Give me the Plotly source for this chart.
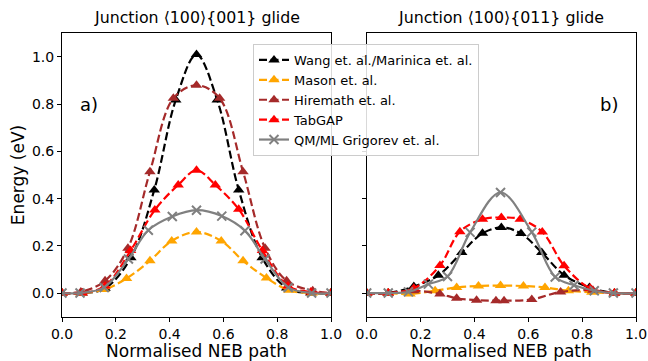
import plotly.graph_objects as go
from plotly.subplots import make_subplots

# ---------------- data: panel a) Junction <100>{001} glide ----------------
a_wang_x = [0, 0.075, 0.16, 0.256, 0.343, 0.423, 0.5, 0.577, 0.657, 0.744, 0.835, 0.925, 1.0]
a_wang_y = [0, 0.0, 0.02, 0.15, 0.437, 0.818, 1.01, 0.818, 0.437, 0.15, 0.022, 0.0, 0]
a_mason_x = [0, 0.07, 0.157, 0.24, 0.327, 0.408, 0.5, 0.592, 0.673, 0.76, 0.843, 0.93, 1.0]
a_mason_y = [0, 0, 0.015, 0.062, 0.137, 0.221, 0.259, 0.221, 0.137, 0.064, 0.012, 0, 0]
a_hire_x = [0, 0.07, 0.16, 0.245, 0.327, 0.414, 0.5, 0.586, 0.673, 0.755, 0.835, 0.932, 1.0]
a_hire_y = [0, 0.005, 0.052, 0.19, 0.514, 0.825, 0.88, 0.825, 0.514, 0.19, 0.052, 0.01, 0]
a_tab_x = [0, 0.075, 0.16, 0.255, 0.345, 0.432, 0.5, 0.57, 0.657, 0.745, 0.84, 0.925, 1.0]
a_tab_y = [0, 0.0, 0.03, 0.18, 0.352, 0.458, 0.52, 0.458, 0.355, 0.18, 0.03, 0.005, 0]
a_qm_x = [0, 0.067, 0.157, 0.247, 0.321, 0.41, 0.5, 0.594, 0.68, 0.755, 0.841, 0.928, 1.0]
a_qm_y = [0, 0, 0.024, 0.144, 0.266, 0.324, 0.351, 0.326, 0.264, 0.144, 0.024, 0, 0]

# ---------------- data: panel b) Junction <100>{011} glide ----------------
b_wang_x = [0, 0.08, 0.175, 0.266, 0.353, 0.43, 0.5, 0.573, 0.65, 0.733, 0.827, 0.92, 1.0]
b_wang_y = [0, 0, 0.028, 0.075, 0.172, 0.253, 0.278, 0.252, 0.172, 0.076, 0.024, 0, 0]
b_mason_x = [0, 0.08, 0.161, 0.254, 0.334, 0.415, 0.497, 0.582, 0.662, 0.749, 0.836, 0.92, 1.0]
b_mason_y = [0, 0, -0.004, 0.01, 0.024, 0.03, 0.032, 0.03, 0.024, 0.01, 0.003, 0, 0]
b_hire_x = [0, 0.08, 0.175, 0.272, 0.334, 0.408, 0.48, 0.51, 0.613, 0.72, 0.84, 0.92, 1.0]
b_hire_y = [0, 0, 0.01, -0.004, -0.022, -0.03, -0.032, -0.032, -0.027, 0.005, 0.012, 0, 0]
b_tab_x = [0, 0.08, 0.175, 0.272, 0.346, 0.43, 0.5, 0.57, 0.652, 0.733, 0.83, 0.92, 1.0]
b_tab_y = [0, 0, 0.02, 0.117, 0.26, 0.313, 0.32, 0.313, 0.259, 0.116, 0.02, 0, 0]
b_qm_x = [0, 0.08, 0.155, 0.229, 0.3, 0.384, 0.497, 0.613, 0.7, 0.77, 0.845, 0.916, 1.0]
b_qm_y = [0, 0, 0.005, 0.038, 0.07, 0.257, 0.426, 0.258, 0.068, 0.033, 0.01, 0, 0]

labels = ["Wang et. al./Marinica et. al.", "Mason et. al.", "Hiremath et. al.",
          "TabGAP", "QM/ML Grigorev et. al."]
colors = ["black", "orange", "brown", "red", "grey"]
titles = ["Junction \u27e8100\u27e9{001} glide", "Junction \u27e8100\u27e9{011} glide"]
panel_tags = ["a)", "b)"]
x_ticks = [0, 0.2, 0.4, 0.6, 0.8, 1.0]
y_ticks = [0, 0.2, 0.4, 0.6, 0.8, 1.0]

panels = [
    [(a_wang_x, a_wang_y), (a_mason_x, a_mason_y), (a_hire_x, a_hire_y), (a_tab_x, a_tab_y), (a_qm_x, a_qm_y)],
    [(b_wang_x, b_wang_y), (b_mason_x, b_mason_y), (b_hire_x, b_hire_y), (b_tab_x, b_tab_y), (b_qm_x, b_qm_y)],
]

FONT = "DejaVu Sans"
fig = make_subplots(rows=1, cols=2, shared_yaxes=True)

for p, series in enumerate(panels):
    for i, (xs, ys) in enumerate(series):
        is_qm = i == 4
        marker = dict(symbol="x-thin", size=9, line=dict(width=2, color=colors[i]), color=colors[i]) if is_qm \
            else dict(symbol="triangle-up", size=10, color=colors[i], line=dict(width=0))
        fig.add_trace(go.Scatter(
            x=xs, y=ys, mode="lines+markers", name=labels[i],
            line=dict(color=colors[i], width=2.2, shape="spline", smoothing=1.0,
                      dash="solid" if is_qm else "8px,3.5px"),
            marker=marker, showlegend=(p == 0), legendrank=i + 1,
        ), row=1, col=p + 1)

x_domains = [[62 / 648, 331 / 648], [366.7 / 648, 636 / 648]]
y_domain = [1 - 316.7 / 361, 1 - 33.3 / 361]

axis_common = dict(showline=True, mirror=True, linecolor="black", linewidth=1,
                   ticks="outside", ticklen=4, tickwidth=1, tickcolor="black",
                   showgrid=False, zeroline=False, automargin=False,
                   tickfont=dict(family=FONT, size=14, color="black"))

for k in range(2):
    xa = "xaxis" if k == 0 else "xaxis2"
    ya = "yaxis" if k == 0 else "yaxis2"
    fig.layout[xa].update(domain=x_domains[k], range=[0, 1], tickvals=x_ticks,
                          ticktext=[f"{v:.1f}" for v in x_ticks],
                          title=dict(text="Normalised NEB path", standoff=3,
                                     font=dict(family=FONT, size=17, color="black")),
                          **axis_common)
    fig.layout[ya].update(domain=y_domain, range=[-0.1, 1.1], tickvals=y_ticks,
                          ticktext=[f"{v:.1f}" for v in y_ticks], **axis_common)

fig.layout.yaxis.update(title=dict(text="Energy (eV)", standoff=2,
                                   font=dict(family=FONT, size=17, color="black")))
fig.layout.yaxis2.update(showticklabels=False)

for k in range(2):
    xd = x_domains[k]
    fig.add_annotation(x=(xd[0] + xd[1]) / 2, y=y_domain[1], xref="paper", yref="paper",
                       text=titles[k], showarrow=False, xanchor="center", yanchor="bottom",
                       yshift=4, font=dict(family=FONT, size=15.8, color="black"))

fig.add_annotation(x=0.1, y=0.8, xref="x", yref="y", text=panel_tags[0], showarrow=False,
                   font=dict(family=FONT, size=18, color="black"))
fig.add_annotation(x=0.9, y=0.8, xref="x2", yref="y2", text=panel_tags[1], showarrow=False,
                   font=dict(family=FONT, size=18, color="black"))

fig.update_layout(
    width=648, height=361, margin=dict(l=0, r=0, t=0, b=0),
    paper_bgcolor="white", plot_bgcolor="white",
    font=dict(family=FONT, color="black"),
    legend=dict(x=253 / 648, y=1 - 44 / 361, xanchor="left", yanchor="top",
                bgcolor="rgba(255,255,255,0.85)", bordercolor="#cccccc", borderwidth=1,
                font=dict(family=FONT, size=13, color="black"),
                tracegroupgap=0, itemwidth=30),
)

fig.write_html("out.html")
